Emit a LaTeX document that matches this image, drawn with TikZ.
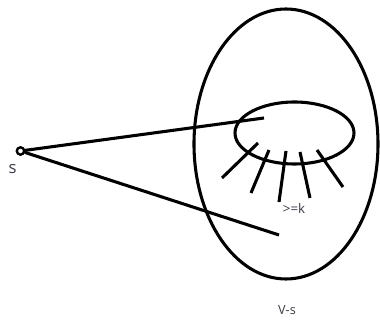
\documentclass[tikz,border=0pt]{standalone}
\usepackage{fontspec}
\setmainfont{Open Sans}
\definecolor{txt}{RGB}{60,58,72}
\begin{document}
\begin{tikzpicture}[x=0.75pt,y=-0.75pt,
  stroke/.style={line width=2.3pt,black},
  spoke/.style={line width=2.3pt,black},
  lbl/.style={text=txt,font=\fontsize{9.5}{11}\selectfont,inner sep=0pt},
  vertex/.style={circle,draw,line width=1.7pt,minimum size=5.4pt,inner sep=0pt,fill=white}]
\useasboundingbox (0,0) rectangle (380,320);
% big set V-s
\draw[stroke] (286,144) ellipse [x radius=92, y radius=135];
% inner set
\draw[stroke] (294.5,133) ellipse [x radius=59.5, y radius=31];
% spokes
\draw[spoke] (258,143) -- (222,178);
\draw[spoke] (269,150) -- (251,193);
\draw[spoke] (286,151) -- (279,202);
\draw[spoke] (300,152) -- (310,198);
\draw[spoke] (317,150) -- (343,187);
% vertex s and its edges
\coordinate (e1) at (264,118);
\coordinate (e2) at (279,235);
\node[vertex] (s) at (20.5,151) {};
\draw[stroke] (s) -- (e1);
\draw[stroke] (s) -- (e2);
\node[vertex] at (20.5,151) {};
% labels
\node[lbl,font=\fontsize{12.5}{14}\selectfont] (ls) at (12.7,169) {s};
\node[lbl,font=\fontsize{10}{12}\selectfont] (lk) at (294,208) {>=k};
\node[lbl] (lv) at (287,310) {V-s};
\end{tikzpicture}
\end{document}
